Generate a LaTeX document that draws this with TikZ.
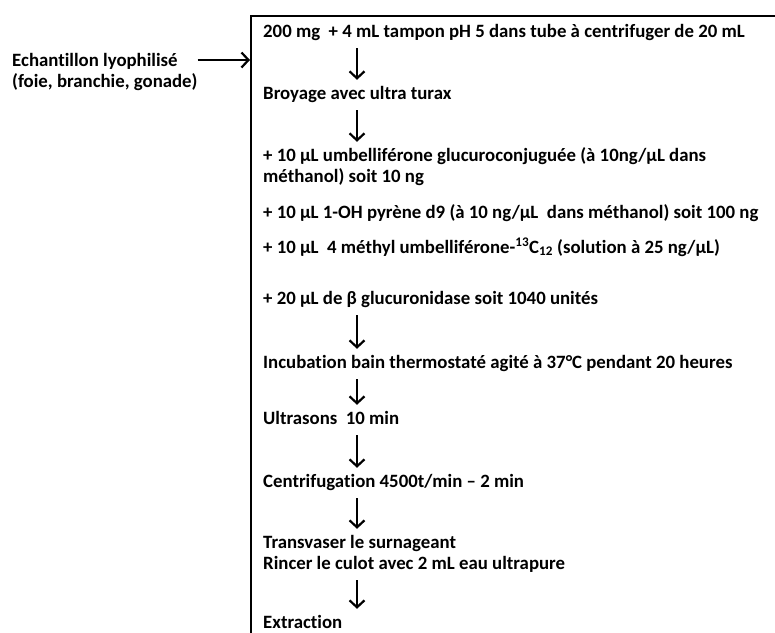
\documentclass[tikz,border=0pt]{standalone}
\usepackage{fontspec}
\setmainfont{Carlito}[Ligatures={NoCommon}]
\usetikzlibrary{arrows.meta}

\begin{document}
\begin{tikzpicture}[x=1pt, y=-1pt,
  stage/.style={anchor=base west, inner sep=0pt, font=\bfseries\fontsize{18.8}{21}\selectfont, text height=12pt, text depth=4pt},
  flow/.style={line width=2.2pt, -{Straight Barb[length=7pt,width=15pt]}, shorten <=7pt, shorten >=7pt}]
  \useasboundingbox (0,0) rectangle (775,632);
  \clip (0,0) rectangle (775,632);
  % cadre ouvert vers la droite et vers le bas
  \node[draw, line width=2pt, inner sep=0pt, anchor=north west, minimum width=600pt, minimum height=700pt] (frame) at (250,15) {};
  % etapes
  \node[stage, text depth=25pt] (sample) at (12,66) {\begin{tabular}[t]{@{}l@{}}Echantillon lyophilisé\\(foie, branchie, gonade)\end{tabular}};
  \node[stage] (s1) at (263,37) {200 mg\ \ + 4 mL tampon pH 5 dans tube à centrifuger de 20 mL};
  \node[stage] (s2) at (263,99) {Broyage avec ultra turax};
  \node[stage, text depth=25pt] (s3) at (263,161) {\begin{tabular}[t]{@{}l@{}}+ 10 µL umbelliférone glucuroconjuguée (à 10ng/µL dans\\méthanol) soit 10 ng\end{tabular}};
  \node[stage] (s4) at (263,218) {+ 10 µL 1-OH pyrène d9 (à 10 ng/µL\ \ dans méthanol) soit 100 ng};
  \node[stage] (s5) at (263,253) {+ 10 µL\ \ 4 méthyl umbelliférone-\textsuperscript{13}C\textsubscript{12} (solution à 25 ng/µL)};
  \node[stage] (s6) at (263,304) {+ 20 µL de β glucuronidase soit 1040 unités};
  \node[stage] (s7) at (263,368) {Incubation bain thermostaté agité à 37°C pendant 20 heures};
  \node[stage] (s8) at (263,424) {Ultrasons\ \ 10 min};
  \node[stage] (s9) at (263,487) {Centrifugation 4500t/min – 2 min};
  \node[stage, text depth=25pt] (s10) at (263,548) {\begin{tabular}[t]{@{}l@{}}Transvaser le surnageant\\Rincer le culot avec 2 mL eau ultrapure\end{tabular}};
  \node[stage] (s11) at (263,628) {Extraction};
  % fleches
  \coordinate (ax) at (357,0);
  \draw[flow, shorten <=0pt, shorten >=0pt] ([yshift=6pt]sample.base east) -- ([yshift=6pt]sample.base east -| frame.west);
  \foreach \a/\b in {s1/s2, s2/s3, s6/s7, s7/s8, s8/s9, s9/s10, s10/s11}
    \draw[flow] (\a.south -| ax) -- (\b.north -| ax);
\end{tikzpicture}
\end{document}
